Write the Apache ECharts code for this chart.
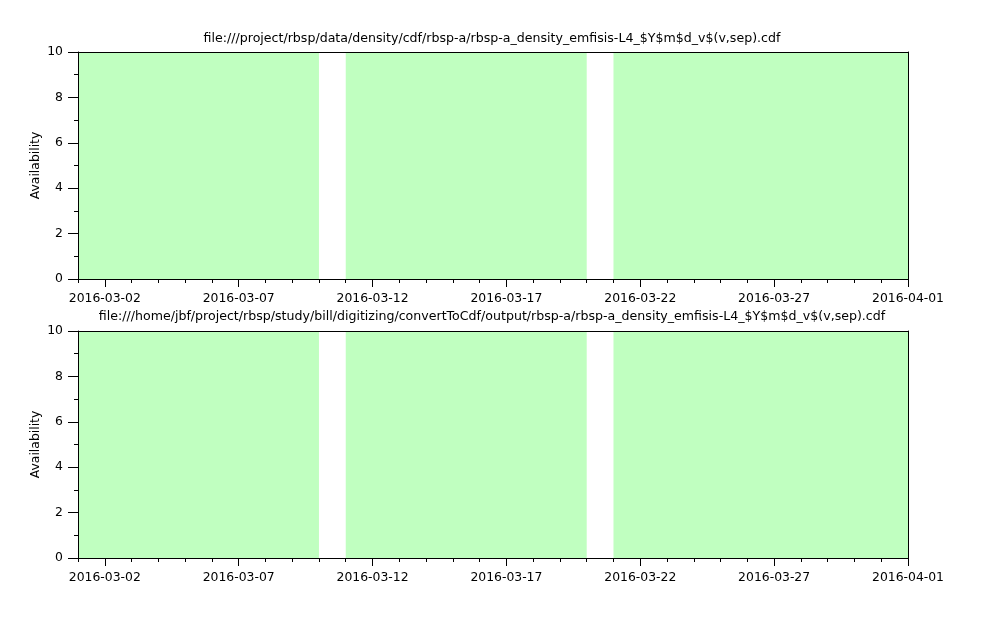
<!DOCTYPE html>
<html><head><meta charset="utf-8">
<script src="https://cdn.jsdelivr.net/npm/echarts@6/dist/echarts.min.js"></script>
<style>html,body{margin:0;padding:0;background:#fff}#c{width:999px;height:623px}</style>
</head><body><div id="c"></div>
<script>
// ---- data ----
const titles = [
  'file:///project/rbsp/data/density/cdf/rbsp-a/rbsp-a_density_emfisis-L4_$Y$m$d_v$(v,sep).cdf',
  'file:///home/jbf/project/rbsp/study/bill/digitizing/convertToCdf/output/rbsp-a/rbsp-a_density_emfisis-L4_$Y$m$d_v$(v,sep).cdf'
];
const xMinDate = '2016-03-01';
const xMaxDate = '2016-04-01';
const xTickLabels = ['2016-03-02','2016-03-07','2016-03-12','2016-03-17','2016-03-22','2016-03-27','2016-04-01'];
const xMinorDays = ['2016-03-01','2016-03-02','2016-03-03','2016-03-04','2016-03-05','2016-03-06','2016-03-07','2016-03-08','2016-03-09','2016-03-10','2016-03-11','2016-03-12','2016-03-13','2016-03-14','2016-03-15','2016-03-16','2016-03-17','2016-03-18','2016-03-19','2016-03-20','2016-03-21','2016-03-22','2016-03-23','2016-03-24','2016-03-25','2016-03-26','2016-03-27','2016-03-28','2016-03-29','2016-03-30','2016-03-31','2016-04-01'];
const topStarts = ['2016-03-01','2016-03-11','2016-03-21'];
const topEnds   = ['2016-03-10','2016-03-20','2016-04-01'];
const topValues = [10,10,10];
const botStarts = ['2016-03-01','2016-03-11','2016-03-21'];
const botEnds   = ['2016-03-10','2016-03-20','2016-04-01'];
const botValues = [10,10,10];
const yMin = 0, yMax = 10, yInterval = 2;
const yName = 'Availability';

// ---- helpers ----
const ms = s => new Date(s + 'T00:00:00Z').getTime();
const fmt = v => new Date(v).toISOString().slice(0, 10);
const FONT = 'DejaVu Sans';
const GREEN = '#c0ffc0';

const grids = [
  {left: 78, right: 91, top: 52, height: 227},
  {left: 78, right: 91, top: 331, height: 227}
];

function rows(starts, ends, vals) {
  return starts.map((s, i) => [ms(s), ms(ends[i]), vals[i]]);
}

const xAxes = [], yAxes = [], series = [];
[0, 1].forEach(g => {
  const base = {type: 'value', gridIndex: g, min: ms(xMinDate), max: ms(xMaxDate), splitLine: {show: false}, z: 10};
  xAxes.push(Object.assign({}, base, {
    position: 'bottom',
    axisLine: {show: true, lineStyle: {color: '#000', width: 1}},
    axisTick: {show: true, length: 8, customValues: xTickLabels.map(ms), lineStyle: {color: '#000'}},
    axisLabel: {show: true, customValues: xTickLabels.map(ms), formatter: fmt, color: '#000', fontFamily: FONT, fontSize: 12.4, margin: 14, hideOverlap: false}
  }));
  xAxes.push(Object.assign({}, base, {
    position: 'bottom',
    axisLine: {show: false},
    axisTick: {show: true, length: 4, customValues: xMinorDays.map(ms), lineStyle: {color: '#000'}},
    axisLabel: {show: false}
  }));
  xAxes.push(Object.assign({}, base, {
    position: 'top',
    axisLine: {show: true, onZero: false, lineStyle: {color: '#000', width: 1}},
    axisTick: {show: false}, axisLabel: {show: false}
  }));
  yAxes.push({
    type: 'value', gridIndex: g, min: yMin, max: yMax, interval: yInterval, position: 'left', z: 10,
    name: yName, nameLocation: 'middle', nameGap: 36, nameRotate: 90, nameMoveOverlap: false,
    nameTextStyle: {color: '#000', fontFamily: FONT, fontSize: 12.4},
    axisLine: {show: true, lineStyle: {color: '#000', width: 1}},
    axisTick: {show: true, length: 10, lineStyle: {color: '#000'}},
    minorTick: {show: true, splitNumber: 2, length: 4, lineStyle: {color: '#000'}},
    axisLabel: {color: '#000', fontFamily: FONT, fontSize: 12.4, margin: 15},
    splitLine: {show: false}, minorSplitLine: {show: false}
  });
  yAxes.push({
    type: 'value', gridIndex: g, min: yMin, max: yMax, interval: yInterval, position: 'right', z: 10,
    axisLine: {show: true, onZero: false, lineStyle: {color: '#000', width: 1}},
    axisTick: {show: false}, axisLabel: {show: false}, splitLine: {show: false}
  });
  const data = g === 0 ? rows(topStarts, topEnds, topValues) : rows(botStarts, botEnds, botValues);
  series.push({
    type: 'custom', xAxisIndex: g * 3, yAxisIndex: g * 2, coordinateSystem: 'cartesian2d',
    encode: {x: [0, 1], y: 2},
    silent: true,
    renderItem: function (params, api) {
      const p0 = api.coord([api.value(0), 0]);
      const p1 = api.coord([api.value(1), api.value(2)]);
      const cs = params.coordSys;
      const r = echarts.graphic.clipRectByRect(
        {x: p0[0], y: p1[1], width: p1[0] - p0[0], height: p0[1] - p1[1]},
        {x: cs.x, y: cs.y, width: cs.width, height: cs.height});
      return r && {type: 'rect', shape: r, style: {fill: GREEN}};
    },
    data: data
  });
});

const chart = echarts.init(document.getElementById('c'), null, {renderer: 'canvas'});
chart.setOption({
  animation: false,
  backgroundColor: '#fff',
  title: titles.map((t, i) => ({
    text: t, left: 487, textAlign: 'center', top: i === 0 ? 27 : 305,
    textStyle: {color: '#000', fontFamily: FONT, fontSize: 12.6, fontWeight: 'normal'}
  })),
  grid: grids,
  xAxis: xAxes,
  yAxis: yAxes,
  series: series
});
</script></body></html>
